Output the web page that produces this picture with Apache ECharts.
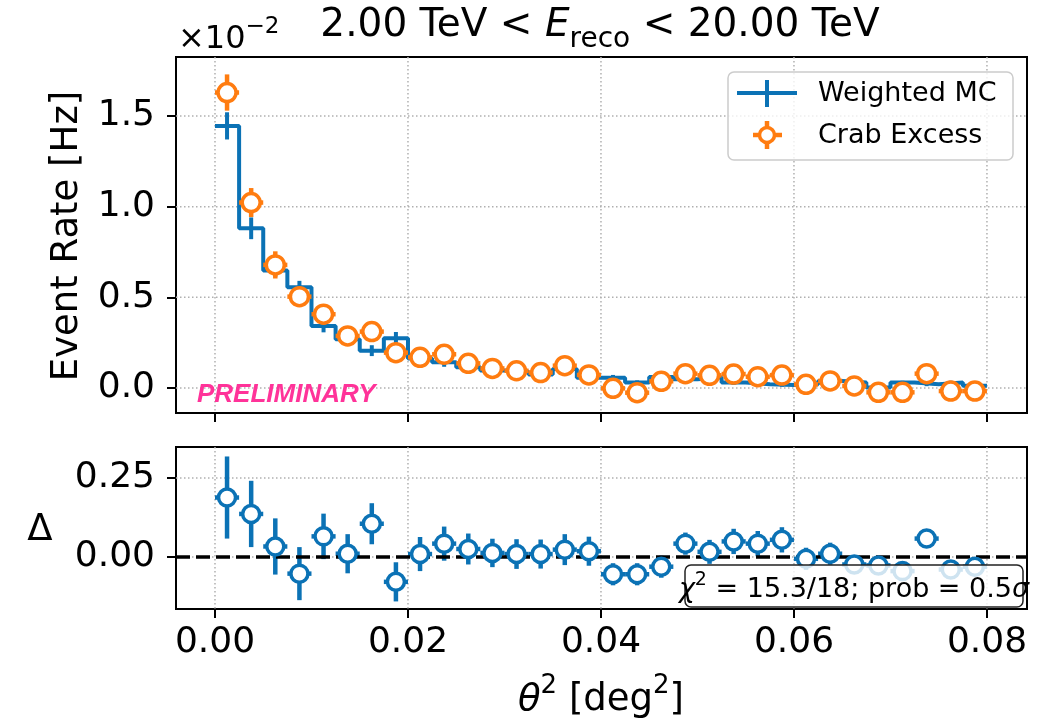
<!DOCTYPE html>
<html>
<head>
<meta charset="utf-8">
<script src="https://cdn.jsdelivr.net/npm/echarts@6/dist/echarts.min.js"></script>
<style>html,body{margin:0;padding:0;background:#fff}#container{width:1050px;height:721px}</style>
</head>
<body>
<div id="container"></div>
<script>
// theta^2 bins (deg^2), bin centres
var binCenters = [0.00125, 0.00375, 0.00625, 0.00875, 0.01125, 0.01375, 0.01625, 0.01875,
                  0.02125, 0.02375, 0.02625, 0.02875, 0.03125, 0.03375, 0.03625, 0.03875,
                  0.04125, 0.04375, 0.04625, 0.04875, 0.05125, 0.05375, 0.05625, 0.05875,
                  0.06125, 0.06375, 0.06625, 0.06875, 0.07125, 0.07375, 0.07625, 0.07875];
var binHalfWidth = 0.00125;
// event rate, units of 1e-2 Hz
var mcRate = [1.446, 0.881, 0.648, 0.556, 0.342, 0.269, 0.206, 0.274,
              0.162, 0.142, 0.114, 0.096, 0.090, 0.075, 0.105, 0.057,
              0.057, 0.030, 0.061, 0.048, 0.059, 0.030, 0.020, 0.017,
              0.020, 0.039, 0.030, 0.003, 0.030, 0.020, 0.030, 0.013];
var mcErr = [0.075, 0.06, 0.035, 0.035, 0.035, 0.025, 0.03, 0.035,
             0.025, 0.025, 0.02, 0.02, 0.02, 0.018, 0.02, 0.015,
             0.015, 0.012, 0.015, 0.012, 0.012, 0.012, 0.01, 0.01,
             0.01, 0.01, 0.01, 0.01, 0.01, 0.01, 0.01, 0.01];
var crabRate = [1.630, 1.023, 0.679, 0.504, 0.407, 0.287, 0.311, 0.195,
                0.169, 0.186, 0.136, 0.108, 0.095, 0.085, 0.123, 0.072,
                -0.002, -0.026, 0.037, 0.079, 0.070, 0.077, 0.062, 0.071,
                0.020, 0.039, 0.011, -0.024, -0.024, 0.079, -0.017, -0.017];
var crabErr = [0.10, 0.08, 0.075, 0.055, 0.055, 0.045, 0.055, 0.045,
               0.045, 0.05, 0.045, 0.045, 0.045, 0.045, 0.045, 0.045,
               0.035, 0.035, 0.035, 0.035, 0.035, 0.035, 0.035, 0.035,
               0.035, 0.035, 0.035, 0.035, 0.035, 0.035, 0.035, 0.035];
var delta = [0.188, 0.136, 0.033, -0.053, 0.065, 0.010, 0.105, -0.079,
             0.009, 0.042, 0.025, 0.0125, 0.009, 0.009, 0.023, 0.018,
             -0.055, -0.055, -0.031, 0.042, 0.016, 0.049, 0.042, 0.054,
             -0.006, 0.010, -0.024, -0.027, -0.045, 0.058, -0.040, -0.031];
var deltaErr = [0.13, 0.105, 0.089, 0.084, 0.072, 0.062, 0.065, 0.062,
                0.054, 0.054, 0.049, 0.045, 0.047, 0.046, 0.049, 0.046,
                0.035, 0.035, 0.035, 0.035, 0.038, 0.04, 0.04, 0.04,
                0.035, 0.035, 0.03, 0.03, 0.03, 0.03, 0.03, 0.03];
var xTicks = [0, 0.02, 0.04, 0.06, 0.08];
var rateTicks = [0, 0.5, 1.0, 1.5];
var deltaTicks = [0, 0.25];

var blue = '#0b72b5';
var orange = '#ff7c10';
var font = 'DejaVu Sans';

var dom = document.getElementById('container');
var myChart = echarts.init(dom);

function errorBars(color, withX, lineW) {
    return function (params, api) {
        var x = api.value(0), y = api.value(1), e = api.value(2);
        var top = api.coord([x, y + e]), bot = api.coord([x, y - e]);
        var kids = [{type: 'line', shape: {x1: top[0], y1: top[1], x2: bot[0], y2: bot[1]},
                     style: {stroke: color, lineWidth: lineW}}];
        if (withX) {
            var l = api.coord([x - binHalfWidth, y]), r = api.coord([x + binHalfWidth, y]);
            kids.push({type: 'line', shape: {x1: l[0], y1: l[1], x2: r[0], y2: r[1]},
                       style: {stroke: color, lineWidth: lineW}});
        }
        return {type: 'group', children: kids};
    };
}

var gridStyle = {stroke: '#b0b0b0', lineWidth: 1.5, lineDash: [1.5, 2.5]};
function vGrid(params, api) {
    var cs = params.coordSys;
    var p = api.coord([api.value(0), api.value(1)]);
    return {type: 'line', shape: {x1: p[0], y1: cs.y, x2: p[0], y2: cs.y + cs.height}, style: gridStyle};
}
function hGrid(params, api) {
    var cs = params.coordSys;
    var p = api.coord([api.value(0), api.value(1)]);
    return {type: 'line', shape: {x1: cs.x, y1: p[1], x2: cs.x + cs.width, y2: p[1]}, style: gridStyle};
}

var mcStep = binCenters.map(function (c, i) { return [c - binHalfWidth, mcRate[i]]; });
mcStep.push([binCenters[binCenters.length - 1] + binHalfWidth, mcRate[mcRate.length - 1]]);

function tickAxis(extra) {
    var base = {
        type: 'value',
        axisLine: {show: false, onZero: false},
        splitLine: {show: false},
        axisTick: {show: true, length: 9, lineStyle: {color: '#000', width: 2}},
        axisLabel: {show: true, fontSize: 36, fontFamily: font, color: '#000'}
    };
    return echarts.util.merge(base, extra, true);
}

option = {
    animation: false,
    grid: [
        {left: 176, top: 57, width: 851, height: 356, show: true, borderColor: '#000', borderWidth: 2, backgroundColor: 'transparent'},
        {left: 176, top: 447, width: 851, height: 162, show: true, borderColor: '#000', borderWidth: 2, backgroundColor: 'transparent'}
    ],
    xAxis: [
        tickAxis({gridIndex: 0, min: -0.00404, max: 0.08415,
            axisTick: {customValues: xTicks}, axisLabel: {show: false}}),
        tickAxis({gridIndex: 1, min: -0.00404, max: 0.08415,
            axisTick: {customValues: xTicks},
            axisLabel: {customValues: xTicks, margin: 16, formatter: function (v) { return v.toFixed(2); }}})
    ],
    yAxis: [
        tickAxis({gridIndex: 0, min: -0.138, max: 1.826,
            axisTick: {customValues: rateTicks},
            axisLabel: {customValues: rateTicks, margin: 21, formatter: function (v) { return v.toFixed(1); }}}),
        tickAxis({gridIndex: 1, min: -0.165, max: 0.348,
            axisTick: {customValues: deltaTicks},
            axisLabel: {customValues: deltaTicks, margin: 21, formatter: function (v) { return v.toFixed(2); }}})
    ],
    graphic: [
        {type: 'text', x: 600, y: 30, z: 50, style: {
            text: '{n|2.00 TeV }{n|<}{e| E}{s|reco}{n| < 20.00 TeV}', align: 'center', verticalAlign: 'middle', fill: '#000',
            rich: {
                n: {fontSize: 39, fontFamily: font, lineHeight: 48, verticalAlign: 'top'},
                e: {fontSize: 39, fontFamily: font, fontStyle: 'italic', lineHeight: 48, verticalAlign: 'top'},
                s: {fontSize: 28, fontFamily: font, lineHeight: 28, verticalAlign: 'bottom'}
            }}},
        {type: 'text', x: 178, y: 36, z: 50, style: {
            text: '{a|×10}{b|−2}', align: 'left', verticalAlign: 'middle', fill: '#000',
            rich: {
                a: {fontSize: 32, fontFamily: font, lineHeight: 40, verticalAlign: 'bottom'},
                b: {fontSize: 23, fontFamily: font, lineHeight: 23, verticalAlign: 'top'}
            }}},
        {type: 'text', x: 67, y: 236, rotation: Math.PI / 2, z: 50, style: {
            text: 'Event Rate [Hz]', fontSize: 37, fontFamily: font, fill: '#000', align: 'center', verticalAlign: 'middle'}},
        {type: 'text', x: 40, y: 530, z: 50, style: {
            text: 'Δ', fontSize: 37, fontFamily: font, fill: '#000', align: 'center', verticalAlign: 'middle'}},
        {type: 'text', x: 601, y: 696, z: 50, style: {
            text: '{i|θ}{p|2}{n| [deg}{p|2}{n|]}', align: 'center', verticalAlign: 'middle', fill: '#000',
            rich: {
                i: {fontSize: 37, fontFamily: font, fontStyle: 'italic', lineHeight: 46, verticalAlign: 'bottom'},
                n: {fontSize: 37, fontFamily: font, lineHeight: 46, verticalAlign: 'bottom'},
                p: {fontSize: 26, fontFamily: font, lineHeight: 26, verticalAlign: 'top'}
            }}},
        {type: 'text', x: 197, y: 395, z: 50, style: {
            text: 'PRELIMINARY', fontSize: 26, fontFamily: 'Liberation Sans', fontWeight: 'bold', fontStyle: 'italic',
            fill: '#ff3399', align: 'left', verticalAlign: 'middle'}},
        // legend
        {type: 'rect', z: 60, shape: {x: 728, y: 72, width: 285, height: 88, r: 6},
            style: {fill: 'rgba(255,255,255,0.8)', stroke: '#cccccc', lineWidth: 1.5}},
        {type: 'line', z: 61, shape: {x1: 737, y1: 93, x2: 797, y2: 93}, style: {stroke: blue, lineWidth: 4}},
        {type: 'line', z: 61, shape: {x1: 767, y1: 80, x2: 767, y2: 107}, style: {stroke: blue, lineWidth: 4}},
        {type: 'line', z: 61, shape: {x1: 753, y1: 135, x2: 782, y2: 135}, style: {stroke: orange, lineWidth: 4.5}},
        {type: 'line', z: 61, shape: {x1: 767, y1: 121, x2: 767, y2: 149}, style: {stroke: orange, lineWidth: 4.5}},
        {type: 'circle', z: 62, shape: {cx: 767, cy: 135, r: 7.5}, style: {fill: '#fff', stroke: orange, lineWidth: 3.5}},
        {type: 'text', x: 818, y: 94, z: 62, style: {text: 'Weighted MC', fontSize: 27, fontFamily: font, fill: '#000', align: 'left', verticalAlign: 'middle'}},
        {type: 'text', x: 818, y: 136, z: 62, style: {text: 'Crab Excess', fontSize: 27, fontFamily: font, fill: '#000', align: 'left', verticalAlign: 'middle'}},
        // chi2 box
        {type: 'rect', z: 60, shape: {x: 685, y: 565, width: 338, height: 42, r: 6},
            style: {fill: 'rgba(255,255,255,0.8)', stroke: '#222', lineWidth: 1.5}},
        {type: 'text', x: 854, y: 587, z: 62, style: {
            text: '{i|χ}{p|2}{n| = 15.3/18; prob = 0.5}{i|σ}', align: 'center', verticalAlign: 'middle', fill: '#000',
            rich: {
                i: {fontSize: 27, fontFamily: font, fontStyle: 'italic', lineHeight: 32, verticalAlign: 'bottom'},
                n: {fontSize: 27, fontFamily: font, lineHeight: 32, verticalAlign: 'bottom'},
                p: {fontSize: 19, fontFamily: font, lineHeight: 19, verticalAlign: 'top'}
            }}}
    ],
    series: [
        {type: 'custom', xAxisIndex: 0, yAxisIndex: 0, z: 1, silent: true, renderItem: vGrid,
            data: xTicks.map(function (v) { return [v, 0]; })},
        {type: 'custom', xAxisIndex: 0, yAxisIndex: 0, z: 1, silent: true, renderItem: hGrid,
            data: rateTicks.map(function (v) { return [0, v]; })},
        {type: 'custom', xAxisIndex: 1, yAxisIndex: 1, z: 1, silent: true, renderItem: vGrid,
            data: xTicks.map(function (v) { return [v, 0]; })},
        {type: 'custom', xAxisIndex: 1, yAxisIndex: 1, z: 1, silent: true, renderItem: hGrid,
            data: deltaTicks.map(function (v) { return [0, v]; })},
        {
            name: 'Weighted MC', type: 'line', xAxisIndex: 0, yAxisIndex: 0, z: 2,
            step: 'end', showSymbol: false, symbol: 'none',
            lineStyle: {color: blue, width: 4},
            data: mcStep
        },
        {
            type: 'custom', xAxisIndex: 0, yAxisIndex: 0, z: 3,
            renderItem: errorBars(blue, false, 4),
            data: binCenters.map(function (c, i) { return [c, mcRate[i], mcErr[i]]; })
        },
        {
            type: 'custom', xAxisIndex: 0, yAxisIndex: 0, z: 4,
            renderItem: errorBars(orange, true, 4.5),
            data: binCenters.map(function (c, i) { return [c, crabRate[i], crabErr[i]]; })
        },
        {
            name: 'Crab Excess', type: 'scatter', xAxisIndex: 0, yAxisIndex: 0, z: 5,
            symbol: 'circle', symbolSize: 18,
            itemStyle: {color: '#fff', borderColor: orange, borderWidth: 3.5, opacity: 1},
            data: binCenters.map(function (c, i) { return [c, crabRate[i]]; })
        },
        {
            type: 'custom', xAxisIndex: 1, yAxisIndex: 1, z: 3,
            renderItem: errorBars(blue, true, 4.5),
            data: binCenters.map(function (c, i) { return [c, delta[i], deltaErr[i]]; }),
            markLine: {
                silent: true, symbol: 'none', label: {show: false},
                lineStyle: {color: '#000', type: [14, 6], width: 3.5},
                data: [{yAxis: 0}]
            }
        },
        {
            type: 'scatter', xAxisIndex: 1, yAxisIndex: 1, z: 5,
            symbol: 'circle', symbolSize: 17,
            itemStyle: {color: '#fff', borderColor: blue, borderWidth: 3.5, opacity: 1},
            data: binCenters.map(function (c, i) { return [c, delta[i]]; })
        }
    ]
};

if (option && typeof option === "object") {
    myChart.setOption(option, true);
}
</script>
</body>
</html>
